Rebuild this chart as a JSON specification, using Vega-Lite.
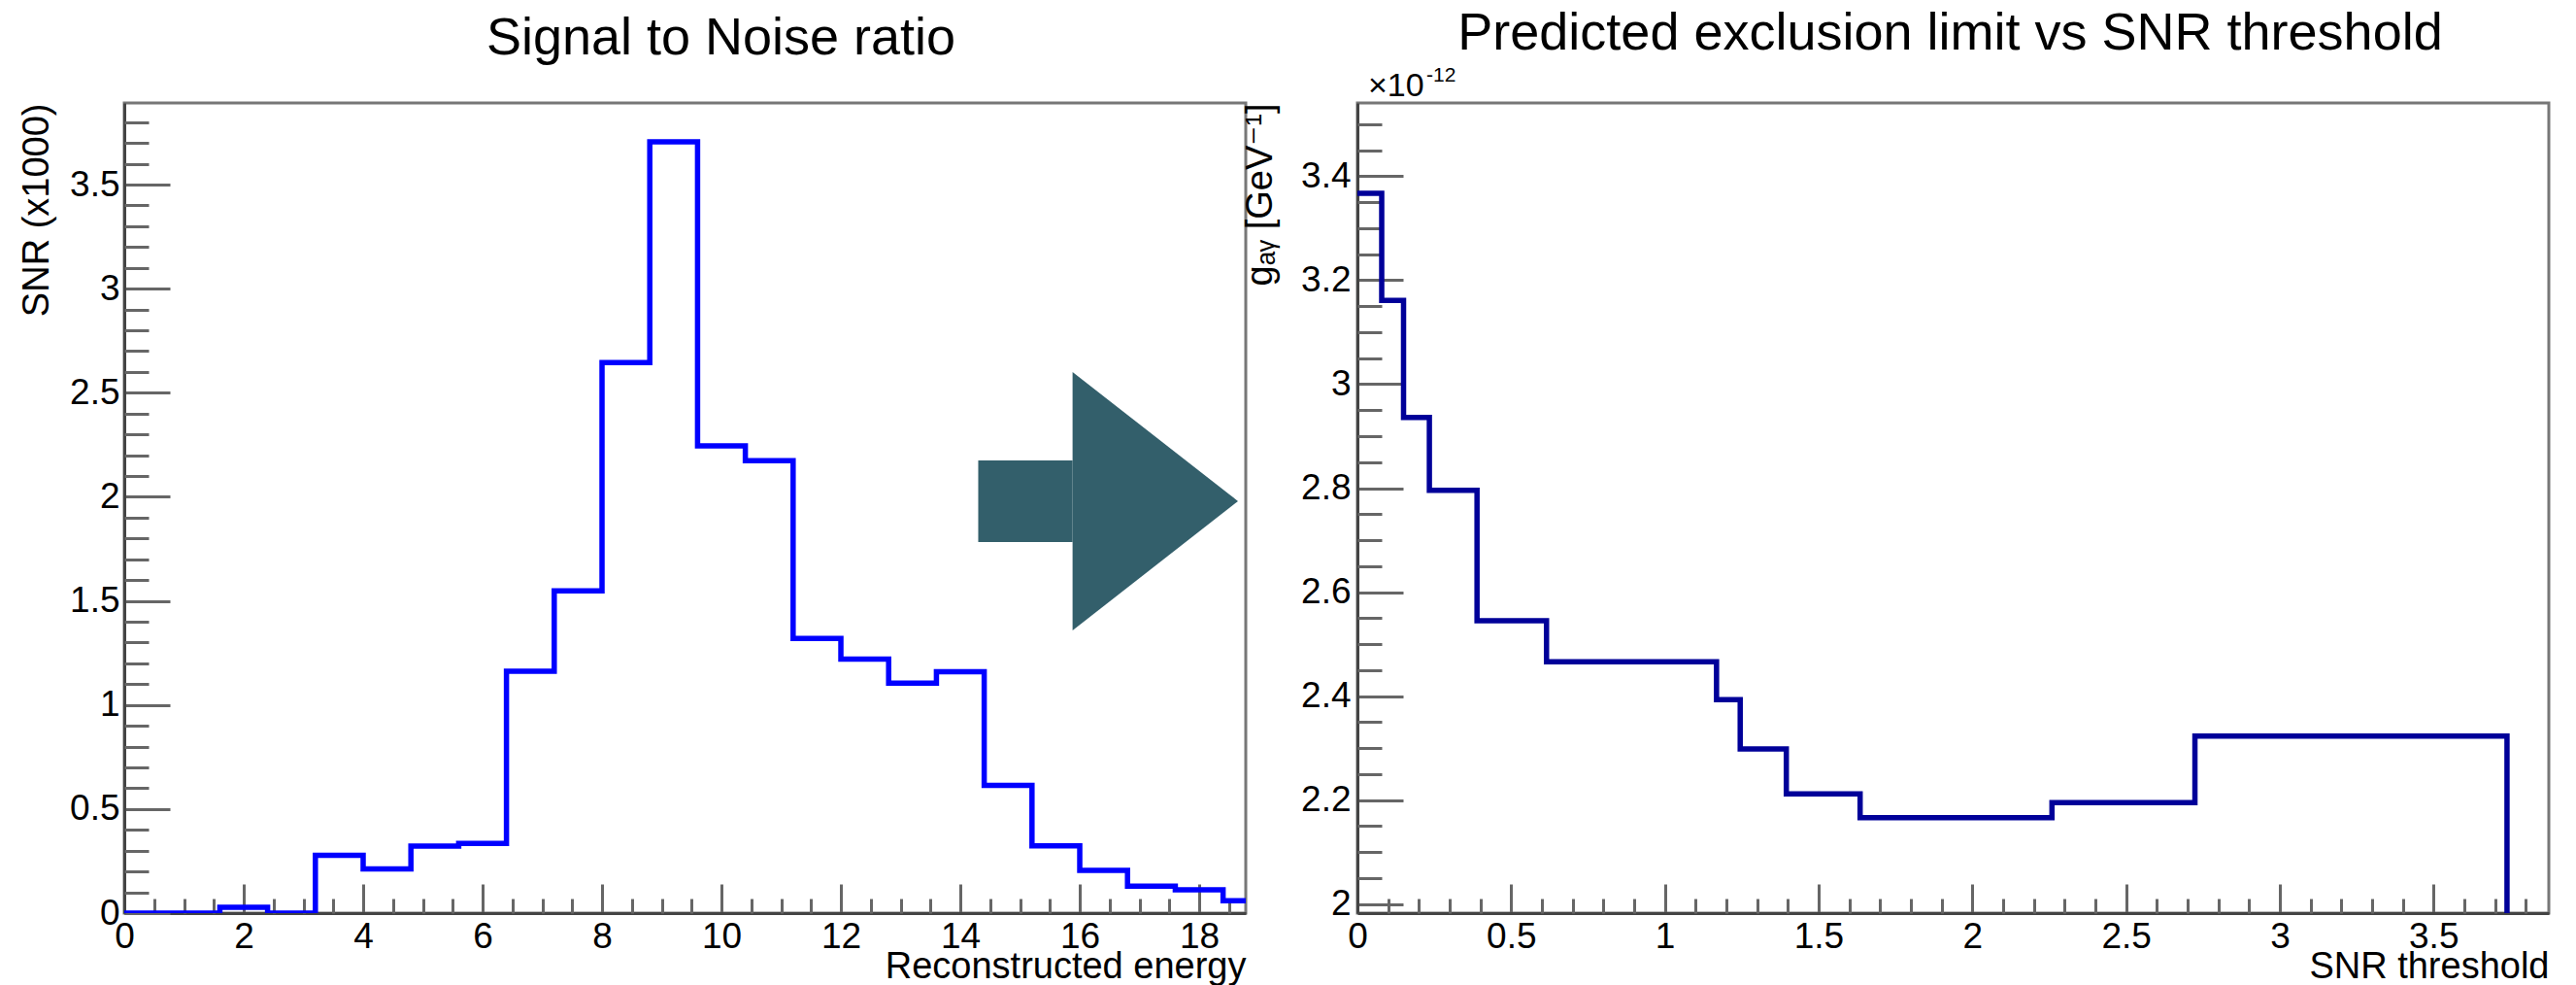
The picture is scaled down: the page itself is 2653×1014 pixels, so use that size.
{
  "$schema": "https://vega.github.io/schema/vega-lite/v6.json",
  "padding": {"left": 18, "top": 6, "right": 0, "bottom": 0},
  "background": "white",
  "spacing": 115,
  "bounds": "flush",
  "config": {
    "font": "Liberation Sans",
    "view": {"stroke": "#777777", "strokeWidth": 3},
    "axis": {
      "labelFont": "Liberation Sans",
      "titleFont": "Liberation Sans, DejaVu Sans",
      "labelColor": "black",
      "titleColor": "black",
      "labelFontSize": 37,
      "titleFontSize": 38,
      "titleFontWeight": "normal",
      "tickColor": "#666666",
      "tickWidth": 3,
      "domainColor": "#444444",
      "domainWidth": 3,
      "grid": false,
      "labelFlush": false,
      "labelOverlap": false
    },
    "title": {"font": "Liberation Sans", "fontSize": 54, "fontWeight": "normal", "color": "black", "frame": "group", "anchor": "middle"}
  },
  "hconcat": [
    {
      "width": 1155,
      "height": 834,
      "title": {"text": "Signal to Noise ratio", "offset": 39, "dx": 37},
      "resolve": {"axis": {"x": "independent", "y": "independent"}},
      "layer": [
        {
          "data": {"values": [
            {"energy": 0, "snr": 0},
            {"energy": 0.8, "snr": 0},
            {"energy": 1.6, "snr": 0.028},
            {"energy": 2.4, "snr": 0},
            {"energy": 3.2, "snr": 0.278},
            {"energy": 4.0, "snr": 0.212},
            {"energy": 4.8, "snr": 0.322},
            {"energy": 5.6, "snr": 0.335},
            {"energy": 6.4, "snr": 1.162},
            {"energy": 7.2, "snr": 1.548},
            {"energy": 8.0, "snr": 2.645},
            {"energy": 8.8, "snr": 3.705},
            {"energy": 9.6, "snr": 2.245},
            {"energy": 10.4, "snr": 2.173},
            {"energy": 11.2, "snr": 1.32},
            {"energy": 12.0, "snr": 1.22},
            {"energy": 12.8, "snr": 1.105},
            {"energy": 13.6, "snr": 1.16},
            {"energy": 14.4, "snr": 0.614},
            {"energy": 15.2, "snr": 0.323},
            {"energy": 16.0, "snr": 0.205},
            {"energy": 16.8, "snr": 0.13},
            {"energy": 17.6, "snr": 0.112},
            {"energy": 18.4, "snr": 0.059},
            {"energy": 19.2, "snr": 0.059}
          ]},
          "mark": {"type": "line", "interpolate": "step-after", "color": "#0000ff", "strokeWidth": 5.5, "clip": true, "strokeJoin": "miter"},
          "encoding": {
            "x": {"field": "energy", "type": "quantitative",
              "scale": {"domain": [0, 18.78], "nice": false, "zero": false},
              "axis": {"orient": "bottom", "values": [0, 2, 4, 6, 8, 10, 12, 14, 16, 18], "format": "~g", "tickSize": -30, "labelPadding": 36,
                "title": "Reconstructed energy", "titleAnchor": "end", "titlePadding": -6}},
            "y": {"field": "snr", "type": "quantitative",
              "scale": {"domain": [0, 3.892], "nice": false},
              "axis": {"orient": "left", "values": [0, 0.5, 1, 1.5, 2, 2.5, 3, 3.5], "format": "~g", "tickSize": -47, "labelPadding": 52,
                "title": "SNR (x1000)", "titleAnchor": "end", "titlePadding": 14}}
          }
        },
        {
          "data": {"values": [{"x1": 14.3, "x2": 15.88, "y1": 2.175, "y2": 1.783}]},
          "mark": {"type": "rect", "color": "#335F6B"},
          "encoding": {
            "x": {"field": "x1", "type": "quantitative",
              "scale": {"domain": [0, 18.78], "nice": false, "zero": false},
              "axis": {"orient": "bottom", "values": [0.5, 1, 1.5, 2.5, 3, 3.5, 4.5, 5, 5.5, 6.5, 7, 7.5, 8.5, 9, 9.5, 10.5, 11, 11.5, 12.5, 13, 13.5, 14.5, 15, 15.5, 16.5, 17, 17.5, 18.5],
                "labels": false, "domain": false, "tickSize": -15, "title": null}},
            "x2": {"field": "x2"},
            "y": {"field": "y1", "type": "quantitative",
              "scale": {"domain": [0, 3.892], "nice": false},
              "axis": {"orient": "left", "values": [0.1, 0.2, 0.3, 0.4, 0.6, 0.7, 0.8, 0.9, 1.1, 1.2, 1.3, 1.4, 1.6, 1.7, 1.8, 1.9, 2.1, 2.2, 2.3, 2.4, 2.6, 2.7, 2.8, 2.9, 3.1, 3.2, 3.3, 3.4, 3.6, 3.7, 3.8],
                "labels": false, "domain": false, "tickSize": -25, "title": null}},
            "y2": {"field": "y2"}
          }
        },
        {
          "data": {"values": [
            {"x": 15.88, "top": 2.599, "bottom": 1.358},
            {"x": 18.65, "top": 1.979, "bottom": 1.979}
          ]},
          "mark": {"type": "area", "color": "#335F6B", "interpolate": "linear"},
          "encoding": {
            "x": {"field": "x", "type": "quantitative", "scale": {"domain": [0, 18.78], "nice": false, "zero": false}, "axis": null},
            "y": {"field": "top", "type": "quantitative", "scale": {"domain": [0, 3.892], "nice": false}, "axis": null, "stack": null},
            "y2": {"field": "bottom"}
          }
        }
      ]
    },
    {
      "width": 1227,
      "height": 834,
      "title": {"text": "Predicted exclusion limit vs SNR threshold", "offset": 5, "dx": -3},
      "resolve": {"axis": {"x": "independent", "y": "independent"}},
      "layer": [
        {
          "data": {"values": [
            {"threshold": 0, "g": 3.367},
            {"threshold": 0.079, "g": 3.161},
            {"threshold": 0.15, "g": 2.936},
            {"threshold": 0.234, "g": 2.796},
            {"threshold": 0.389, "g": 2.545},
            {"threshold": 0.615, "g": 2.466},
            {"threshold": 1.168, "g": 2.393},
            {"threshold": 1.245, "g": 2.298},
            {"threshold": 1.395, "g": 2.212},
            {"threshold": 1.635, "g": 2.166},
            {"threshold": 2.259, "g": 2.195},
            {"threshold": 2.724, "g": 2.323},
            {"threshold": 3.739, "g": 2.323},
            {"threshold": 3.739, "g": 1.9824}
          ]},
          "mark": {"type": "line", "interpolate": "step-after", "color": "#000099", "strokeWidth": 5.5, "clip": true, "strokeJoin": "miter"},
          "encoding": {
            "x": {"field": "threshold", "type": "quantitative",
              "scale": {"domain": [0, 3.875], "nice": false, "zero": false},
              "axis": {"orient": "bottom", "values": [0, 0.5, 1, 1.5, 2, 2.5, 3, 3.5], "format": "~g", "tickSize": -30, "labelPadding": 36,
                "title": "SNR threshold", "titleAnchor": "end", "titlePadding": -6}},
            "y": {"field": "g", "type": "quantitative",
              "scale": {"domain": [1.9824, 3.541], "nice": false, "zero": false},
              "axis": {"orient": "left", "values": [2, 2.2, 2.4, 2.6, 2.8, 3, 3.2, 3.4], "format": "~g", "tickSize": -47, "labelPadding": 54,
                "title": "gₐᵧ [GeV⁻¹]", "titleAnchor": "end", "titlePadding": 22}}
          }
        },
        {
          "data": {"values": [{"t": "×10"}]},
          "mark": {"type": "text", "fontSize": 34, "align": "left", "baseline": "alphabetic", "dx": 11, "dy": -7, "color": "black", "font": "Liberation Sans"},
          "encoding": {
            "x": {"datum": 0, "type": "quantitative",
              "scale": {"domain": [0, 3.875], "nice": false, "zero": false},
              "axis": {"orient": "bottom", "values": [0.1, 0.2, 0.3, 0.4, 0.6, 0.7, 0.8, 0.9, 1.1, 1.2, 1.3, 1.4, 1.6, 1.7, 1.8, 1.9, 2.1, 2.2, 2.3, 2.4, 2.6, 2.7, 2.8, 2.9, 3.1, 3.2, 3.3, 3.4, 3.6, 3.7, 3.8],
                "labels": false, "domain": false, "tickSize": -15, "title": null}},
            "y": {"datum": 3.541, "type": "quantitative",
              "scale": {"domain": [1.9824, 3.541], "nice": false, "zero": false},
              "axis": {"orient": "left", "values": [2.05, 2.1, 2.15, 2.25, 2.3, 2.35, 2.45, 2.5, 2.55, 2.65, 2.7, 2.75, 2.85, 2.9, 2.95, 3.05, 3.1, 3.15, 3.25, 3.3, 3.35, 3.45, 3.5],
                "labels": false, "domain": false, "tickSize": -25, "title": null}},
            "text": {"field": "t"}
          }
        },
        {
          "data": {"values": [{"t": "-12"}]},
          "mark": {"type": "text", "fontSize": 21, "align": "left", "baseline": "alphabetic", "dx": 71, "dy": -22, "color": "black", "font": "Liberation Sans"},
          "encoding": {
            "x": {"datum": 0, "type": "quantitative", "scale": {"domain": [0, 3.875], "nice": false, "zero": false}, "axis": null},
            "y": {"datum": 3.541, "type": "quantitative", "scale": {"domain": [1.9824, 3.541], "nice": false, "zero": false}, "axis": null},
            "text": {"field": "t"}
          }
        }
      ]
    }
  ]
}
